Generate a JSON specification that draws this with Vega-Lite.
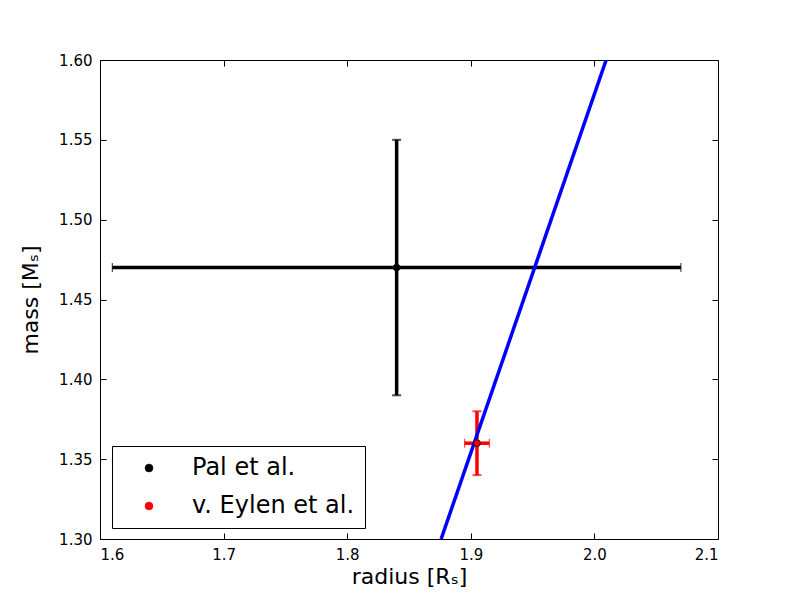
{
  "$schema": "https://vega.github.io/schema/vega-lite/v6.json",
  "width": 618,
  "height": 479,
  "autosize": "none",
  "padding": {"left": 100, "top": 60, "right": 82, "bottom": 61},
  "background": "white",
  "config": {
    "view": {"stroke": "black", "strokeWidth": 1},
    "font": "DejaVu Sans",
    "axis": {"grid": false, "domain": false, "tickColor": "black", "tickSize": -6, "labelFontSize": 15, "labelColor": "black", "titleFontSize": 22, "titleFontWeight": "normal", "titleColor": "black", "labelPadding": 14}
  },
  "datasets": {
    "pts": [
      {"name": "Pal et al.", "x": 1.84, "y": 1.47, "xlo": 1.61, "xhi": 2.07, "ylo": 1.39, "yhi": 1.55},
      {"name": "v. Eylen et al.", "x": 1.905, "y": 1.36, "xlo": 1.895, "xhi": 1.915, "ylo": 1.34, "yhi": 1.38}
    ],
    "line": [
      {"x": 1.876, "y": 1.30},
      {"x": 2.0095, "y": 1.60}
    ]
  },
  "resolve": {"axis": {"x": "independent", "y": "independent"}},
  "layer": [
    {
      "data": {"name": "pts"},
      "mark": {"type": "rule", "strokeWidth": 3.5},
      "encoding": {
        "x": {"field": "xlo", "type": "quantitative", "scale": {"domain": [1.6, 2.1], "nice": false, "zero": false}, "axis": {"orient": "bottom", "values": [1.6, 1.7, 1.8, 1.9, 2.0, 2.1], "format": ".1f", "title": "radius [Rₛ]", "titlePadding": 4}},
        "x2": {"field": "xhi"},
        "y": {"field": "y", "type": "quantitative", "scale": {"domain": [1.3, 1.6], "nice": false, "zero": false}, "axis": {"orient": "left", "values": [1.3, 1.35, 1.4, 1.45, 1.5, 1.55, 1.6], "format": ".2f", "title": "mass [Mₛ]", "titlePadding": 16}},
        "color": {"field": "name", "type": "nominal", "scale": {"domain": ["Pal et al.", "v. Eylen et al."], "range": ["black", "red"]}, "legend": {"title": null, "orient": "none", "legendX": 12, "legendY": 386, "labelFontSize": 24, "labelColor": "black", "symbolType": "circle", "symbolSize": 60, "symbolOpacity": 1, "symbolStrokeColor": "black", "symbolStrokeWidth": 0.8, "labelOffset": 31, "rowPadding": 14, "padding": 10, "strokeColor": "black", "fillColor": "white", "symbolOffset": 15, "labelLimit": 300, "encode": {"symbols": {"update": {"opacity": {"value": 1}, "fillOpacity": {"value": 1}, "strokeOpacity": {"value": 1}}}}}}
      }
    },
    {
      "data": {"name": "pts"},
      "mark": {"type": "rule", "strokeWidth": 3.5},
      "encoding": {
        "x": {"field": "x", "type": "quantitative", "axis": {"orient": "top", "values": [1.6, 1.7, 1.8, 1.9, 2.0, 2.1], "labels": false, "title": null}},
        "y": {"field": "ylo", "type": "quantitative", "axis": {"orient": "right", "values": [1.3, 1.35, 1.4, 1.45, 1.5, 1.55, 1.6], "labels": false, "title": null}},
        "y2": {"field": "yhi"},
        "color": {"field": "name", "type": "nominal"}
      }
    },
    {
      "data": {"name": "pts"},
      "transform": [{"fold": ["xlo", "xhi"], "as": ["k", "xv"]}],
      "mark": {"type": "tick", "orient": "vertical", "size": 9, "thickness": 1.2},
      "encoding": {
        "x": {"field": "xv", "type": "quantitative", "axis": null},
        "y": {"field": "y", "type": "quantitative", "axis": null},
        "color": {"field": "name", "type": "nominal"}
      }
    },
    {
      "data": {"name": "pts"},
      "transform": [{"fold": ["ylo", "yhi"], "as": ["k", "yv"]}],
      "mark": {"type": "tick", "orient": "horizontal", "size": 9, "thickness": 2},
      "encoding": {
        "x": {"field": "x", "type": "quantitative", "axis": null},
        "y": {"field": "yv", "type": "quantitative", "axis": null},
        "color": {"field": "name", "type": "nominal"}
      }
    },
    {
      "data": {"name": "line"},
      "mark": {"type": "line", "color": "blue", "strokeWidth": 3.5, "clip": true},
      "encoding": {
        "x": {"field": "x", "type": "quantitative", "axis": null},
        "y": {"field": "y", "type": "quantitative", "axis": null}
      }
    },
    {
      "data": {"name": "pts"},
      "mark": {"type": "point", "shape": "circle", "filled": true, "size": 45, "stroke": "black", "strokeWidth": 0.8, "opacity": 1},
      "encoding": {
        "x": {"field": "x", "type": "quantitative", "axis": null},
        "y": {"field": "y", "type": "quantitative", "axis": null},
        "color": {"field": "name", "type": "nominal"}
      }
    }
  ]
}
